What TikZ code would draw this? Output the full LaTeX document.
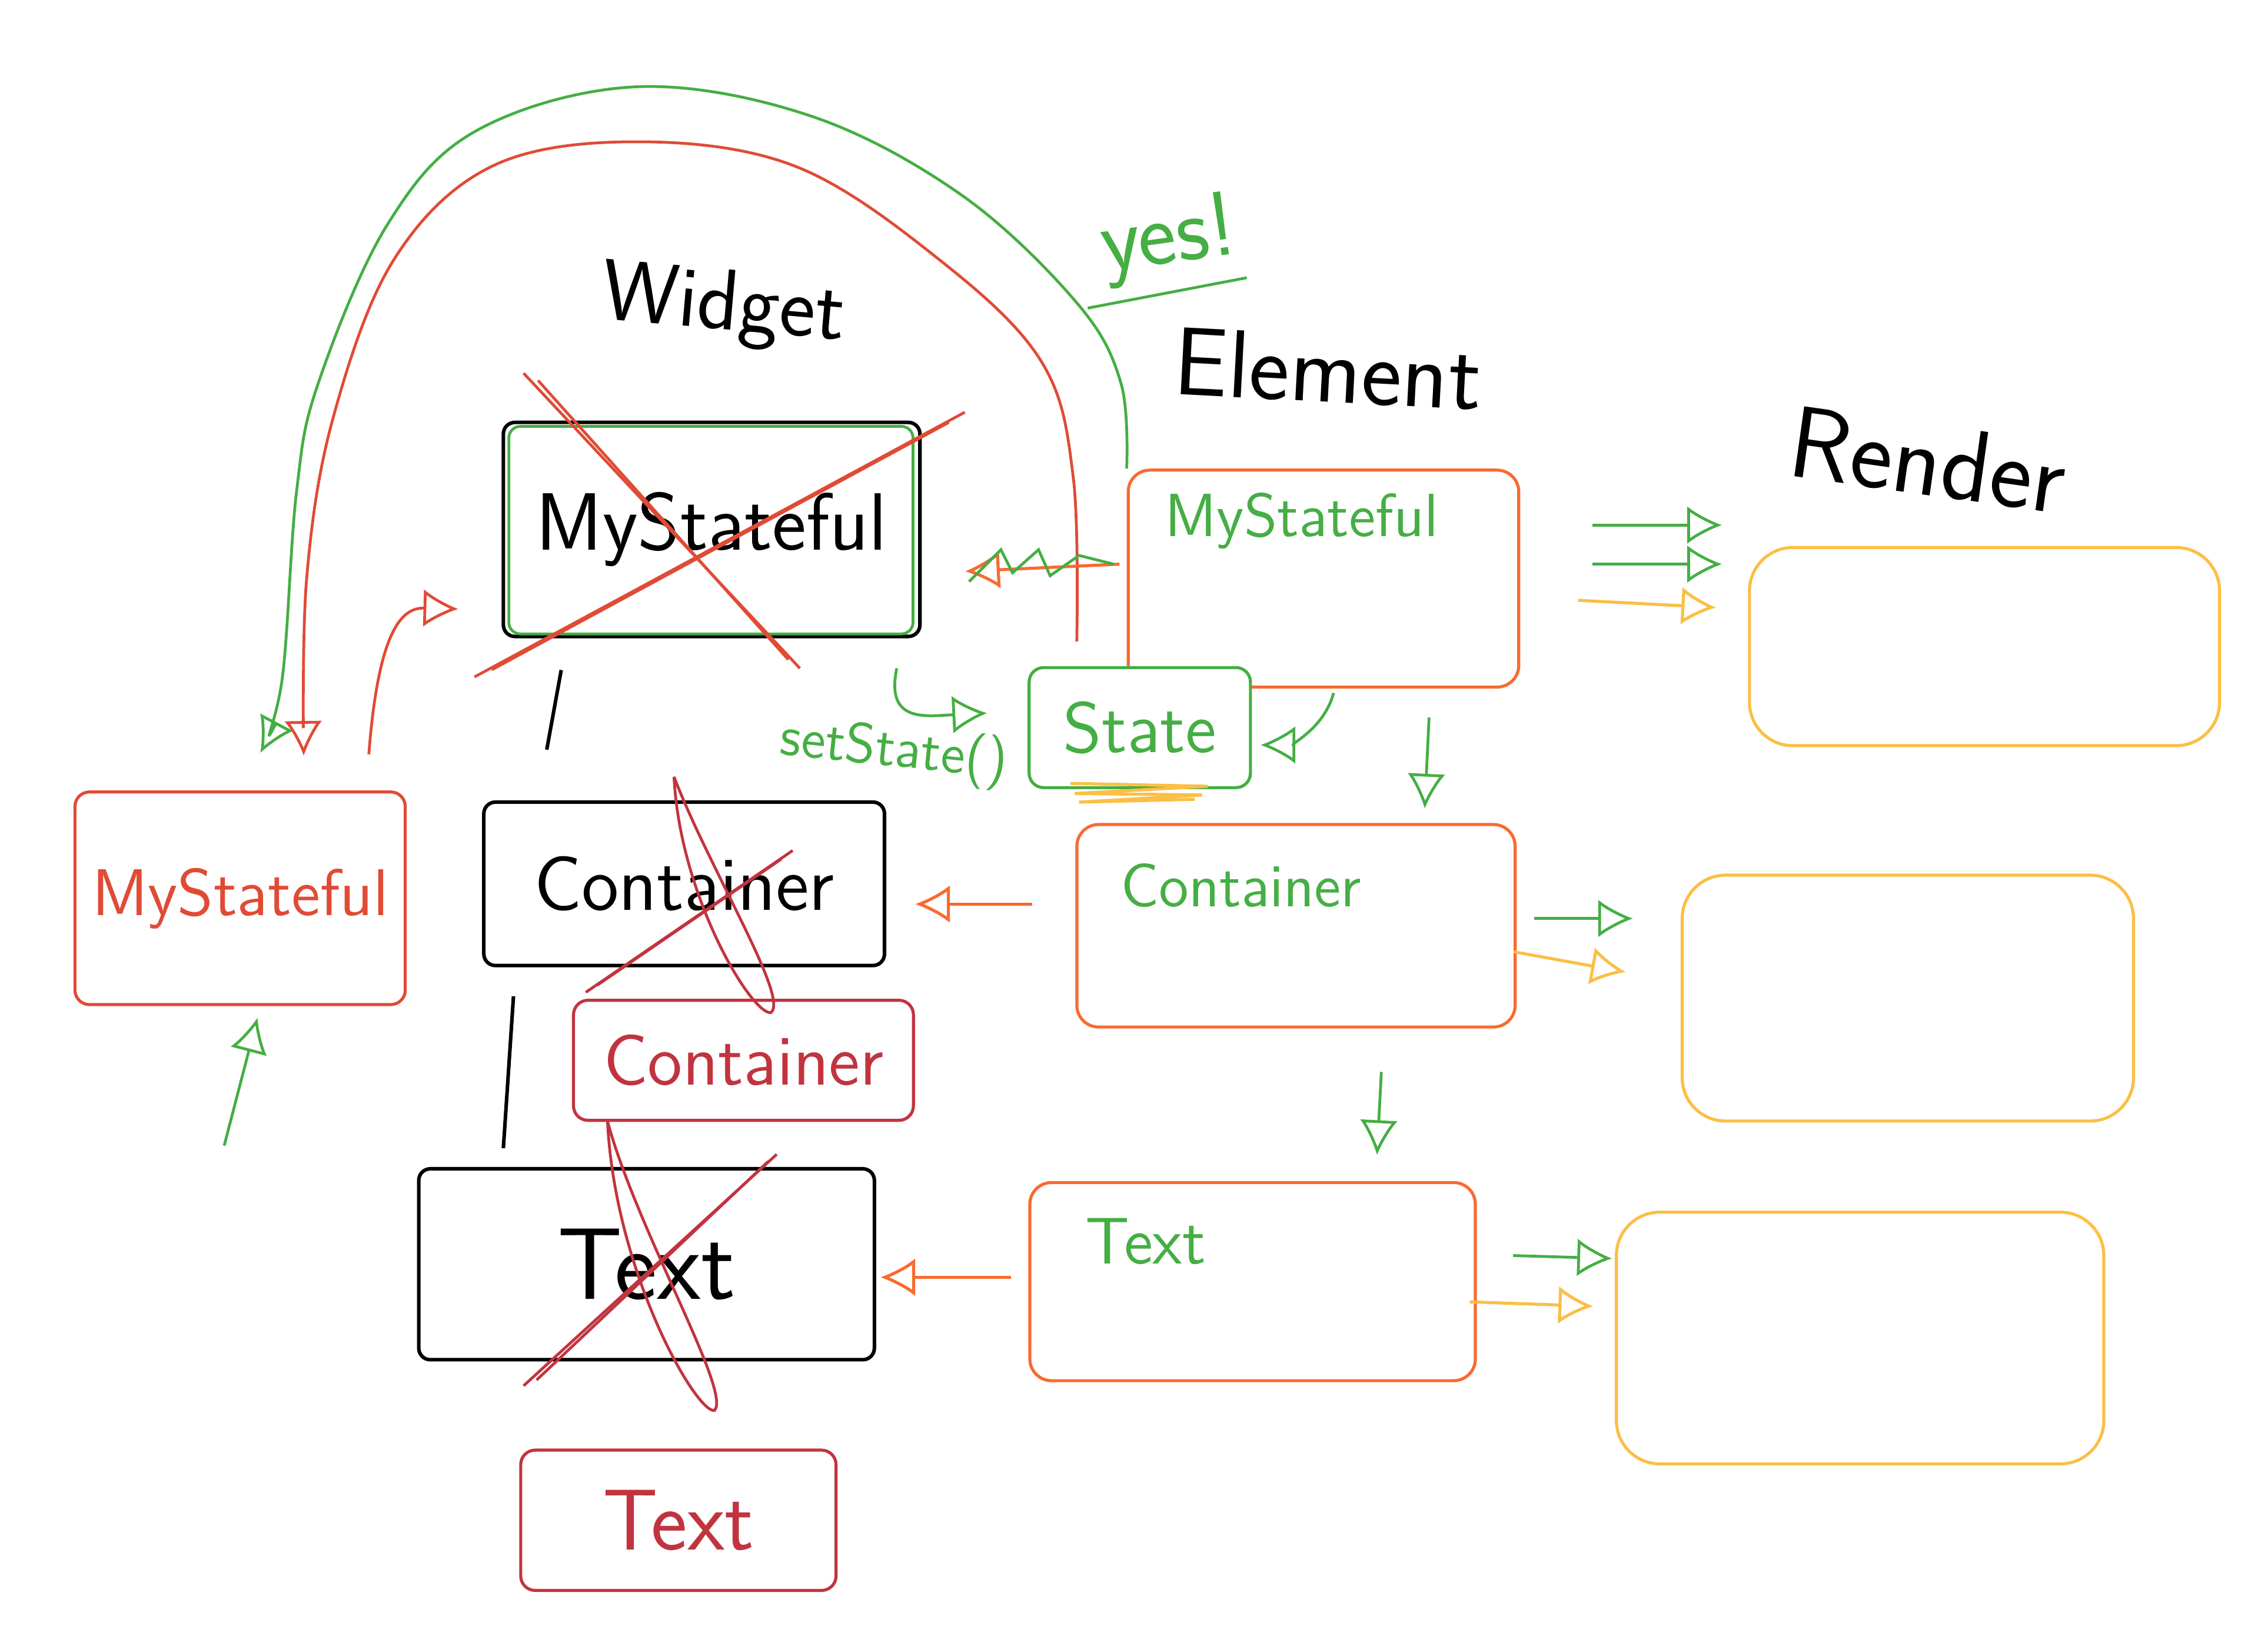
\documentclass[tikz,border=0pt]{standalone}
\usetikzlibrary{arrows.meta,calc}

\definecolor{inkred}{HTML}{E04B36}
\definecolor{inkdark}{HTML}{C1343F}
\definecolor{inkorange}{HTML}{F96A2F}
\definecolor{inkgreen}{HTML}{45AE44}
\definecolor{inkyellow}{HTML}{FBBF45}

\tikzset{
    hand/.style={font=\sffamily\fontsize{#1}{#1}\selectfont},
    widgetbox/.style={draw=black, line width=0.7pt, rounded corners=0.8mm, inner sep=0pt},
    oldbox/.style={draw=inkdark, line width=0.6pt, rounded corners=1mm, inner sep=0pt, text=inkdark},
    elementbox/.style={draw=inkorange, line width=0.6pt, rounded corners=1.5mm},
    renderbox/.style={draw=inkyellow, line width=0.6pt, rounded corners=3mm},
    gline/.style={draw=inkgreen, line width=0.55pt},
    rline/.style={draw=inkred, line width=0.55pt},
    dline/.style={draw=inkdark, line width=0.55pt},
    oline/.style={draw=inkorange, line width=0.6pt},
    yline/.style={draw=inkyellow, line width=0.6pt},
    dtip/.style={-{Latex[open,length=2.4mm,width=2.6mm]}}
}

\begin{document}
\begin{tikzpicture}[x=0.1mm, y=-0.1mm]
    \useasboundingbox (0,0) rectangle (1568,1133);

    % Column headings
    \node[hand=17, rotate=-5] (hWidget) at (500,213) {Widget};
    \node[hand=19, rotate=-3] (hElement) at (918,255) {Element};
    \node[hand=20, rotate=-8] (hRender) at (1333,318) {Render};

    % Widget column (crossed out)
    \node[widgetbox, minimum width=28.8mm, minimum height=14.8mm, hand=16] (wMy) at (492,366) {MyStateful};
    \draw[gline, rounded corners=0.8mm] ($(wMy.north west)+(5,4)$) rectangle ($(wMy.south east)+(-6,-3)$);
    \node[widgetbox, minimum width=27.7mm, minimum height=11.3mm, hand=15] (wCon) at (473,611) {Container};
    \node[widgetbox, minimum width=31.5mm, minimum height=13.2mm, hand=20] (wTxt) at (447,874) {Text};
    \draw[black, line width=0.7pt] ($(wMy.south)+(-104,22)$) -- ($(wCon.north)+(-95,-35)$);
    \draw[black, line width=0.7pt] ($(wCon.south)+(-118,20)$) -- ($(wTxt.north)+(-99,-13)$);

    \draw[rline] (362,258) -- (553,462);
    \draw[rline] (372,263) -- (545,456);
    \draw[rline] (328,468) -- (667,285);
    \draw[rline] (340,463) -- (656,292);

    \draw[dline] (405,686) -- (548,588);
    \draw[dline] (413,681) -- (540,594);
    \draw[dline] (466,537) .. controls (470,620) and (520,702) .. (533,700)
        .. controls (546,690) and (490,600) .. (466,537);

    \draw[dline] (362,958) -- (537,798);
    \draw[dline] (371,954) -- (531,803);
    \draw[dline] (420,775) .. controls (425,880) and (482,978) .. (494,975)
        .. controls (506,962) and (440,850) .. (420,775);

    % New widgets
    \node[oldbox, minimum width=23.5mm, minimum height=8.3mm, hand=14] (rCon) at (514,733) {Container};
    \node[oldbox, minimum width=21.8mm, minimum height=9.7mm, hand=17] (rTxt) at (469,1051) {Text};
    \node[draw=inkred, line width=0.6pt, rounded corners=1mm, minimum width=22.3mm, minimum height=14.7mm,
        hand=13, text=inkred] (rMy) at (166,621) {MyStateful};

    % Element column
    \node[elementbox, minimum width=27mm, minimum height=15mm] (eMy) at (915,400) {};
    \node[hand=12, text=inkgreen] (eMyLbl) at (900,360) {MyStateful};
    \node[draw=inkgreen, line width=0.6pt, fill=white, rounded corners=1mm, minimum width=15.3mm,
        minimum height=8.3mm, hand=14, text=inkgreen] (State) at (788,503) {State};
    \draw[yline] ($(State.south)+(-48,-4)$) -- ++(95,2) -- ++(-92,5) -- ++(88,1)
        -- ++(-85,5) -- ++(80,-2);
    \node[elementbox, minimum width=30.3mm, minimum height=14mm] (eCon) at (896,640) {};
    \node[hand=12, text=inkgreen] (eConLbl) at (858,612) {Container};
    \node[elementbox, minimum width=30.8mm, minimum height=13.7mm] (eTxt) at (866,886) {};
    \node[hand=13, text=inkgreen] (eTxtLbl) at (792,858) {Text};

    % Render column
    \node[renderbox, minimum width=32.5mm, minimum height=13.7mm] (rnd1) at (1372,447) {};
    \node[renderbox, minimum width=31.2mm, minimum height=17mm] (rnd2) at (1319,690) {};
    \node[renderbox, minimum width=33.7mm, minimum height=17.4mm] (rnd3) at (1286,925) {};

    % Big arcs back to the new widget
    \draw[gline, dtip] plot[smooth, tension=0.6] coordinates {(eMy.north west) (775,265) (745,210)
        (665,135) (560,80) (440,60) (330,90) (268,155) (220,265) (205,340) (195,470) ($(rMy.north)+(14,-26)$)};
    \draw[rline, dtip] plot[smooth, tension=0.6] coordinates {($(State.north west)+(34,-17)$) (742,330)
        (720,250) (650,180) (550,115) (440,98) (340,115) (272,180) (230,290) (212,400) ($(rMy.north)+(44,-24)$)};
    \node[hand=18, rotate=8, text=inkgreen] (yesLbl) at (808,166) {yes!};
    \draw[gline] (752,213) -- (862,192);

    \draw[rline, dtip] ($(rMy.north)+(89,-25)$) .. controls (262,430) and (280,420) .. ($(wMy.west)+(-30,55)$);
    \coordinate (upStart) at (155,792);
    \draw[gline, dtip] (upStart) -- ($(rMy.south)+(12,8)$);

    % setState
    \coordinate (setStart) at (620,462);
    \draw[gline, dtip] (setStart) .. controls (612,500) and (640,495) .. ($(State.west)+(-28,-10)$);
    \node[hand=11, rotate=-6, text=inkgreen] (setLbl) at (618,520) {setState()};
    \draw[gline, dtip] ($(eMy.south)+(7,3)$) .. controls (915,505) and (890,515) .. ($(State.east)+(6,12)$);

    % Element to element
    \draw[gline, dtip] ($(eMy.south)+(73,20)$) -- ($(eCon.north)+(89,-10)$);
    \draw[gline, dtip] ($(eCon.south)+(59,30)$) -- ($(eTxt.north)+(86,-18)$);

    % Element to widget
    \draw[oline, dtip] ($(eMy.west)+(-5,-10)$) -- ($(wMy.east)+(30,29)$);
    \draw[gline] (670,402) -- (692,380) -- (700,396) -- (718,380) -- (726,398) -- (746,384) -- (770,390);
    \draw[oline, dtip] ($(eCon.west)+(-30,-15)$) -- ($(wCon.east)+(20,14)$);
    \draw[oline, dtip] ($(eTxt.west)+(-12,-3)$) -- ($(wTxt.east)+(3,9)$);

    % Element to render
    \draw[gline, dtip] ($(eMy.east)+(50,-37)$) -- ($(rnd1.west)+(-18,-84)$);
    \draw[gline, dtip] ($(eMy.east)+(50,-10)$) -- ($(rnd1.west)+(-18,-57)$);
    \draw[yline, dtip] ($(eMy.east)+(40,15)$) -- ($(rnd1.west)+(-22,-27)$);
    \draw[gline, dtip] ($(eCon.east)+(12,-5)$) -- ($(rnd2.west)+(-33,-55)$);
    \draw[yline, dtip] ($(eCon.east)+(-2,18)$) -- ($(rnd2.west)+(-38,-18)$);
    \draw[gline, dtip] ($(eTxt.east)+(25,-18)$) -- ($(rnd3.west)+(-2,-55)$);
    \draw[yline, dtip] ($(eTxt.east)+(-5,14)$) -- ($(rnd3.west)+(-15,-22)$);

\end{tikzpicture}
\end{document}
